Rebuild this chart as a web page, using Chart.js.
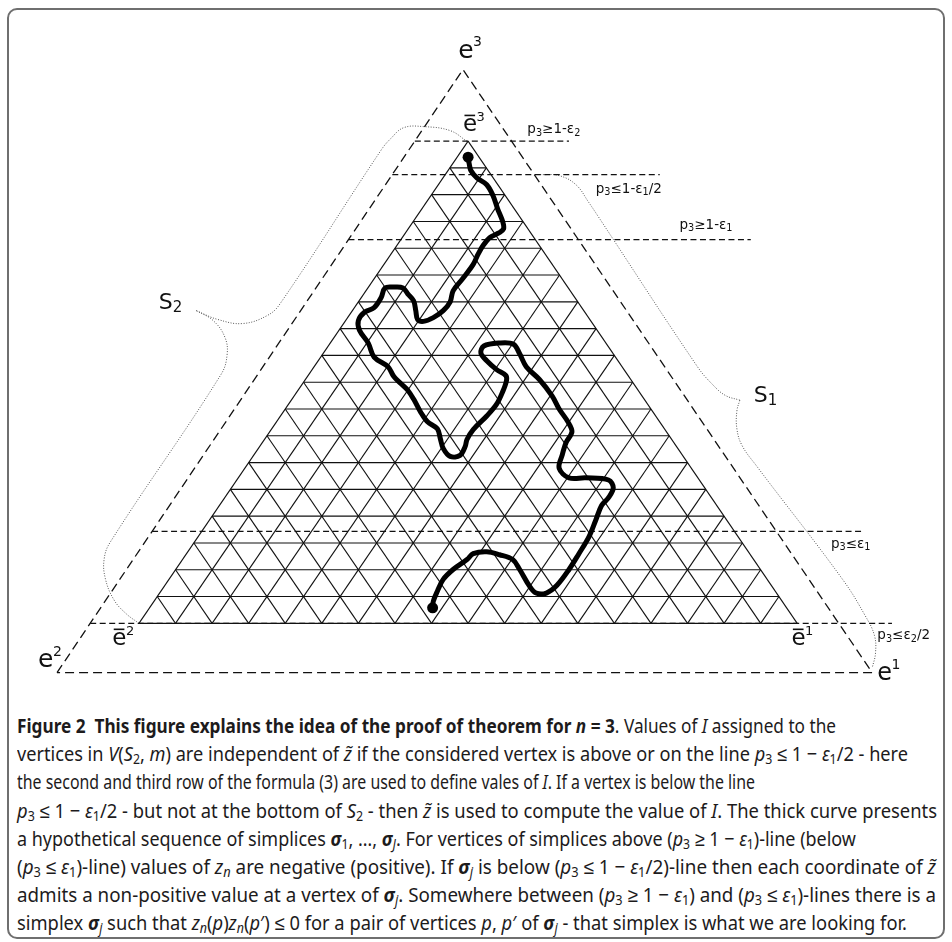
<!DOCTYPE html>
<html><head><meta charset="utf-8">
<script src="https://cdn.jsdelivr.net/npm/chart.js@4/dist/chart.umd.min.js"></script>
<style>
html,body{margin:0;padding:0;background:#fff;}
body{width:952px;height:942px;position:relative;overflow:hidden;}
#frame{position:absolute;left:7px;top:8px;width:938px;height:931px;border:2px solid #6f6f6f;border-radius:10px;box-sizing:border-box;}
#c{position:absolute;left:0;top:0;}
.ln{position:absolute;left:17px;white-space:nowrap;transform-origin:0 0;font-family:'Noto Sans',sans-serif;font-size:20px;line-height:28px;color:#1d1b1c;}
.ln sub{font-size:0.68em;vertical-align:-0.22em;line-height:0;}
.s{font-weight:700;font-style:italic;}
</style></head>
<body>
<div id="frame"></div>
<canvas id="c" width="952" height="700"></canvas>
<div id="cap">
<div class="ln" data-w="819"><b>Figure 2&nbsp; This figure explains the idea of the proof of theorem for <i>n</i> = 3</b>. Values of <i>I</i> assigned to the</div>
<div class="ln" data-w="891">vertices in <i>V</i>(<i>S</i><sub>2</sub>, <i>m</i>) are independent of <i>z̃</i> if the considered vertex is above or on the line <i>p</i><sub>3</sub> ≤ 1 − <i>ε</i><sub>1</sub>/2 - here</div>
<div class="ln" data-w="738">the second and third row of the formula (3) are used to define vales of <i>I</i>. If a vertex is below the line</div>
<div class="ln" data-w="920"><i>p</i><sub>3</sub> ≤ 1 − <i>ε</i><sub>1</sub>/2 - but not at the bottom of <i>S</i><sub>2</sub> - then <i>z̃</i> is used to compute the value of <i>I</i>. The thick curve presents</div>
<div class="ln" data-w="839">a hypothetical sequence of simplices <span class="s">σ</span><sub>1</sub>, …, <span class="s">σ</span><sub><i>J</i></sub>. For vertices of simplices above (<i>p</i><sub>3</sub> ≥ 1 − <i>ε</i><sub>1</sub>)-line (below</div>
<div class="ln" data-w="919">(<i>p</i><sub>3</sub> ≤ <i>ε</i><sub>1</sub>)-line) values of <i>z<sub>n</sub></i> are negative (positive). If <span class="s">σ</span><sub><i>j</i></sub> is below (<i>p</i><sub>3</sub> ≤ 1 − <i>ε</i><sub>1</sub>/2)-line then each coordinate of <i>z̃</i></div>
<div class="ln" data-w="919">admits a non-positive value at a vertex of <span class="s">σ</span><sub><i>j</i></sub>. Somewhere between (<i>p</i><sub>3</sub> ≥ 1 − <i>ε</i><sub>1</sub>) and (<i>p</i><sub>3</sub> ≤ <i>ε</i><sub>1</sub>)-lines there is a</div>
<div class="ln" data-w="890">simplex <span class="s">σ</span><sub><i>j</i></sub> such that <i>z<sub>n</sub></i>(<i>p</i>)<i>z<sub>n</sub></i>(<i>p</i>′) ≤ 0 for a pair of vertices <i>p</i>, <i>p</i>′ of <span class="s">σ</span><sub><i>j</i></sub> - that simplex is what we are looking for.</div>
</div>
<script>
// ---------------- DATA (grid units: u = column along base, v = row index p3*M) ----------------
const M = 18; // subdivisions of the simplex S2

// thick curve: hypothetical sequence of simplices
const curveU = [9.00,9.03,9.08,9.24,9.51,9.68,9.81,9.95,9.97,9.84,9.59,9.41,9.27,9.14,8.86,8.59,8.51,8.32,8.05,7.78,7.62,7.57,7.51,7.35,7.22,6.97,6.73,6.62,6.43,6.16,6.00,6.03,6.27,6.43,6.81,6.97,7.16,7.35,7.51,7.70,7.89,8.16,8.24,8.32,8.51,8.78,8.92,8.97,9.14,9.51,9.78,9.95,10.05,10.03,9.78,9.51,9.35,9.43,9.84,10.24,10.41,10.59,10.95,11.30,11.49,11.73,11.84,11.68,11.57,11.49,11.76,12.22,12.84,12.97,12.84,12.65,12.49,12.30,12.03,11.76,11.43,11.14,10.86,10.68,10.41,10.22,9.86,9.51,9.14,8.97,8.59,8.32,8.16,8.05,8.03];
const curveV = [17.40,17.15,16.89,16.63,16.37,15.97,15.46,14.98,14.72,14.57,14.39,14.10,13.77,13.40,12.88,12.41,12.00,11.67,11.41,11.27,11.34,11.67,12.04,12.30,12.52,12.55,12.52,12.15,11.78,11.60,11.30,10.94,10.46,9.94,9.58,9.21,8.95,8.70,8.37,7.89,7.52,7.26,6.90,6.53,6.23,6.27,6.60,6.86,7.23,7.74,8.18,8.66,9.06,9.25,9.47,9.80,10.09,10.35,10.46,10.42,10.06,9.58,9.10,8.48,8.00,7.52,7.15,6.75,6.27,5.79,5.43,5.43,5.35,5.06,4.69,4.40,3.85,3.22,2.60,2.01,1.42,1.13,1.13,1.39,2.01,2.38,2.56,2.67,2.60,2.38,2.01,1.64,1.20,0.83,0.58];

// dashed threshold lines (row levels) and their labels
const levelNames = ['p_3≥1-ε_2','p_3≤1-ε_1/2','p_3≥1-ε_1','p_3≤ε_1','p_3≤ε_2/2'];
const levelRows  = [18.0, 16.75, 14.32, 3.43, 0];

// vertex and face labels
const vertexNames = ['e','e','e','e','e','e'];
const vertexIdx   = ['3','3','2','2','1','1'];
const vertexBar   = [false,true,false,true,false,true];
const faceNames = ['S','S'];
const faceIdx   = ['2','1'];

// dotted braces (S2 on the left, S1 on the right)
const braceS2a = [[8.97,17.99],[8.51,18.39],[7.78,18.54],[7.24,18.50],[6.89,18.10],[6.62,17.66],[3.86,11.93],[3.51,11.49],[2.84,11.19],[2.16,11.34],[1.57,11.67]];
const braceS2b = [[1.57,11.67],[2.03,11.30],[2.35,10.68],[2.41,10.02],[2.24,9.28],[-0.78,3.04],[-0.95,2.41],[-0.92,1.68],[-0.68,0.87],[-0.35,0.36],[0,0]];
const braceS1a = [[10.97,16.75],[11.49,16.71],[11.95,16.37],[12.30,15.71],[12.57,15.16],[15.27,9.58],[15.68,8.92],[16.03,8.51],[16.43,8.33]];
const braceS1b = [[16.43,8.33],[16.35,7.93],[16.35,7.26],[16.49,6.64],[16.89,5.87],[19.24,1.64],[19.86,0.28],[20.11,-0.45],[20.14,-1.11],[20.05,-1.66]];

// ---------------- LAYOUT ----------------
const L = {
  x: [-3.6486, 22.0811], y: [-2.656, 23.060],
  outer: [[-2.24,-1.84],[8.86,20.67],[20.05,-1.84]],
  levelEnd: [11.76,14.24,16.73,19.84,20.59],
  levelLabelAt: [[10.62,18.29],[12.49,16.08],[14.78,14.72],[18.92,2.82],[20.19,-0.60]],
  vertexAt: [[8.73,21.11],[8.86,18.36],[-2.76,-1.63],[-0.73,-0.82],[20.19,-2.10],[17.84,-0.82]],
  vertexSize: [25,23,25,23,24,23],
  faceAt: [[0.54,11.75],[16.81,8.25]],
  faceSize: 22, smallSize: 13.5
};

const pt = (u,v)=>({x:u,y:v});
const ds = [];
function line(data, o){ ds.push(Object.assign({data, showLine:true, pointRadius:0, borderColor:'#111', borderWidth:1.1, fill:false, order:1}, o||{})); }

// curve + end dots
ds.push({data: curveU.map((u,i)=>pt(u,curveV[i])), showLine:true, pointRadius:0, borderColor:'#000', borderWidth:5, tension:0.35, borderJoinStyle:'round', borderCapStyle:'round', order:0});
ds.push({data:[pt(curveU[0],curveV[0]), pt(curveU[curveU.length-1],curveV[curveV.length-1])], showLine:false, pointRadius:5.5, pointBorderWidth:0, pointBackgroundColor:'#000', order:0});

// triangulation grid
for(let k=0;k<M;k++) line([pt(k/2,k), pt(M-k/2,k)]);
for(let j=0;j<M;j++) line([pt(j,0), pt(j+(M-j)/2, M-j)]);
for(let j=1;j<=M;j++) line([pt(j,0), pt(j/2, j)]);

// outer simplex
const o = L.outer;
line([pt(...o[0]),pt(...o[1]),pt(...o[2]),pt(...o[0])], {borderDash:[9,5], borderWidth:1.3, order:2});
function outerLeftU(v){ return o[0][0] + (v-o[0][1])*(o[1][0]-o[0][0])/(o[1][1]-o[0][1]); }
levelRows.forEach((r,i)=> line([pt(outerLeftU(r),r), pt(L.levelEnd[i],r)], {borderDash:[6,3.5], borderWidth:1.2, order:2}));

// braces
[braceS2a,braceS2b,braceS1a,braceS1b].forEach(b=> line(b.map(p=>pt(p[0],p[1])), {borderColor:'#555', borderWidth:1, borderDash:[1,1.6], tension:0.4, order:3}));

const labels = {
  id:'labels',
  afterDatasetsDraw(chart){
    const ctx = chart.ctx, xs = chart.scales.x, ys = chart.scales.y;
    const F = 'DejaVu Sans';
    ctx.save(); ctx.fillStyle = '#111'; ctx.textBaseline = 'alphabetic'; ctx.textAlign='left';
    vertexNames.forEach((n,i)=>{
      const s = L.vertexSize[i];
      const x = xs.getPixelForValue(L.vertexAt[i][0]), y = ys.getPixelForValue(L.vertexAt[i][1]);
      ctx.font = s+'px "'+F+'"'; ctx.fillText(n, x, y);
      const w = ctx.measureText(n).width;
      if(vertexBar[i]){ ctx.fillRect(x+1.5, y-s*0.73, w-3.5, 1.6); }
      ctx.font = Math.round(s*0.58)+'px "'+F+'"'; ctx.fillText(vertexIdx[i], x+w-0.5, y-s*0.45);
    });
    faceNames.forEach((n,i)=>{
      const s = L.faceSize;
      const x = xs.getPixelForValue(L.faceAt[i][0]), y = ys.getPixelForValue(L.faceAt[i][1]);
      ctx.font = s+'px "'+F+'"'; ctx.fillText(n, x, y);
      const w = ctx.measureText(n).width;
      ctx.font = Math.round(s*0.66)+'px "'+F+'"'; ctx.fillText(faceIdx[i], x+w, y+3);
    });
    levelNames.forEach((t,i)=>{
      const s = L.smallSize;
      let x = xs.getPixelForValue(L.levelLabelAt[i][0]); const y = ys.getPixelForValue(L.levelLabelAt[i][1]);
      for(let k=0;k<t.length;k++){
        let ch=t[k], sub=false;
        if(ch==='_'){ sub=true; ch=t[++k]; }
        ctx.font = (sub? s*0.72 : s)+'px "'+F+'"';
        ctx.fillText(ch, x, sub? y+2.5 : y);
        x += ctx.measureText(ch).width;
      }
    });
    ctx.restore();
  }
};

new Chart(document.getElementById('c'), {
  type:'scatter',
  data:{datasets:ds},
  options:{
    responsive:false, animation:false, devicePixelRatio:1,
    layout:{padding:0},
    plugins:{legend:{display:false}, tooltip:{enabled:false}},
    scales:{
      x:{type:'linear', min:L.x[0], max:L.x[1], display:false},
      y:{type:'linear', min:L.y[0], max:L.y[1], display:false}
    }
  },
  plugins:[labels]
});

// caption lines: place and fit widths
const base0 = 734, step = 28.2;
function fit(){
  document.querySelectorAll('.ln').forEach((el,i)=>{
    el.style.top = (base0 + i*step - 22) + 'px';
    el.style.transform = 'none';
    const w = el.getBoundingClientRect().width;
    el.style.transform = 'scaleX(' + (parseFloat(el.dataset.w)/w) + ')';
  });
}
fit();
if(document.fonts && document.fonts.ready) document.fonts.ready.then(fit);
</script>
</body></html>
